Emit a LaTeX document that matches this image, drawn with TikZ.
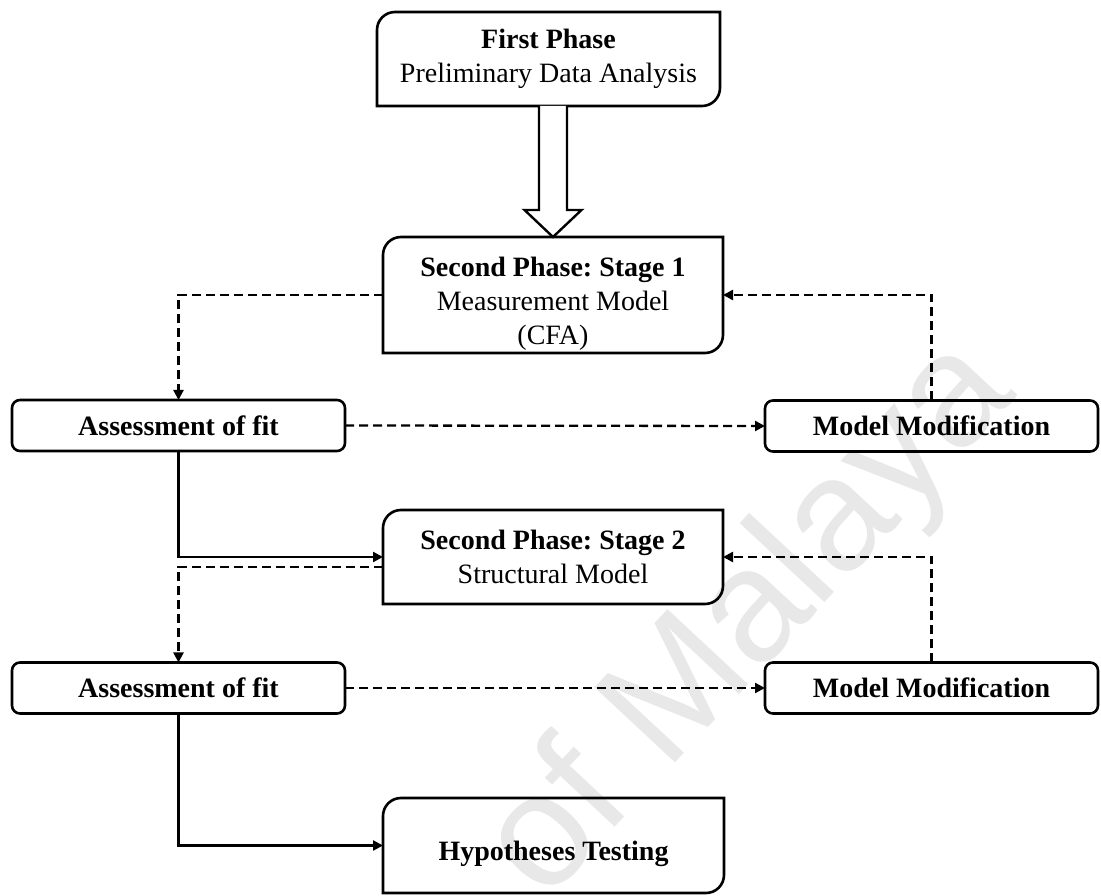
\documentclass[tikz,border=0pt]{standalone}
\usepackage{fontspec}
\setmainfont{Liberation Serif}
\newfontfamily\wmfont{Liberation Sans}
\usetikzlibrary{arrows.meta,calc}
\frenchspacing

% outline with rounded top-left and bottom-right corners
\newcommand\phasebox[2][18pt]{%
  \draw[boxframe] ([yshift=-#1]#2.north west)
    arc[start angle=180,end angle=90,radius=#1] -- (#2.north east)
    -- ([yshift=#1]#2.south east)
    arc[start angle=0,end angle=-90,radius=#1] -- (#2.south west) -- cycle;}

\begin{document}
\begin{tikzpicture}[x=1pt,y=1pt,
  every node/.style={inner sep=0pt, outer sep=0pt, align=center,
    font=\fontsize{28}{34}\selectfont},
  boldtext/.style={font=\fontsize{28}{34}\selectfont\bfseries},
  boxframe/.style={line width=2.6pt},
  phase/.style={minimum width=340pt},
  fitbox/.style={draw, line width=2.6pt, rounded corners=8pt,
    minimum width=333pt, minimum height=51pt, boldtext},
  link/.style={line width=2.3pt, -{Triangle[length=10pt,width=10pt]}},
  dlink/.style={link, dash pattern=on 9pt off 5pt},
  blockarrow/.style={line width=2.4pt, fill=white},
]
\useasboundingbox (0,0) rectangle (1101,895);

% watermark
\begin{scope}
  \clip (0,0) rectangle (1101,895);
  \node[rotate=47, anchor=base west, text=black!9,
    font=\wmfont\fontsize{160}{160}\selectfont] (wm) at (545,-8) {of Malaya};
\end{scope}

% phase boxes
\node[minimum width=343pt, minimum height=94pt] (b1) at (548.5,836)
  {\textbf{First Phase}\\Preliminary Data Analysis};
\phasebox{b1}

\node[phase, minimum height=116pt] (b2) at (553,600) {};
\node (t2) at (553,591)
  {\textbf{Second Phase: Stage 1}\\Measurement Model\\(CFA)};
\phasebox{b2}

\node[phase, minimum height=94pt] (b3) at (553,338)
  {\textbf{Second Phase: Stage 2}\\Structural Model};
\phasebox{b3}

\node[minimum width=341pt, minimum height=95pt] (b4) at (553.5,49.5) {};
\node[boldtext] (t4) at (553.5,41) {Hypotheses Testing};
\phasebox{b4}

% assessment and modification boxes
\node[fitbox] (a1) at (178.5,469.5) {Assessment of fit};
\node[fitbox] (m1) at (931.5,469) {Model Modification};
\node[fitbox] (a2) at (178.5,207) {Assessment of fit};
\node[fitbox] (m2) at (931.5,207) {Model Modification};

% hollow block arrow between the first two phases
\draw[blockarrow] ($(b2.north|-b1.south)+(-14,0)$) -- ($(b2.north)+(-14,27)$)
  -- ($(b2.north)+(-28.5,27)$) -- (b2.north) -- ($(b2.north)+(28.5,27)$)
  -- ($(b2.north)+(14,27)$) -- ($(b2.north|-b1.south)+(14,0)$);

% connectors
\draw[dlink] (b2.west) -| (a1.north);
\draw[dlink] (a1.east) -- (m1.west);
\draw[dlink] (m1.north) |- (b2.east);
\draw[link] (a1.south) |- (b3.west);
\draw[dlink] ([yshift=-10pt]b3.west) -| (a2.north);
\draw[dlink] (a2.east) -- (m2.west);
\draw[dlink] (m2.north) |- (b3.east);
\draw[link] (a2.south) |- (b4.west);
\end{tikzpicture}
\end{document}
